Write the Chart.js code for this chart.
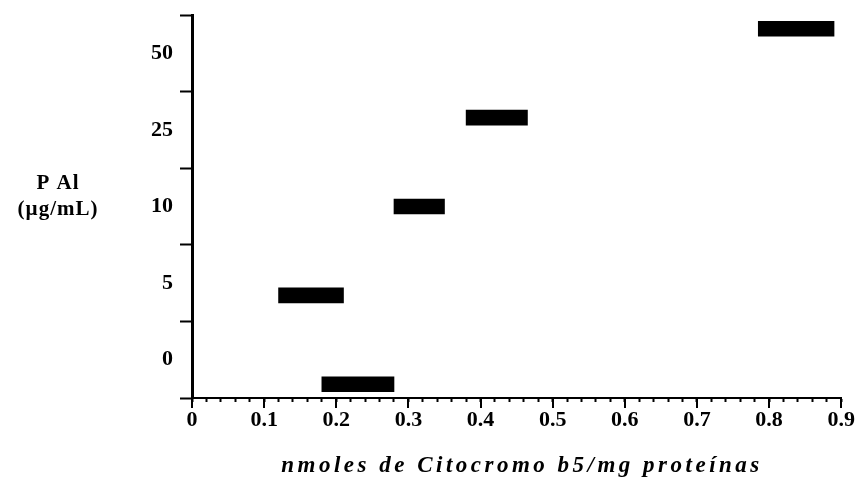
<!DOCTYPE html>
<html>
<head>
<meta charset="utf-8">
<script src="https://cdn.jsdelivr.net/npm/chart.js@4/dist/chart.umd.min.js"></script>
<style>
    html, body { margin: 0; padding: 0; background: #fff; }
    #wrap { width: 860px; height: 478px; }
</style>
</head>
<body>
<div id="wrap"><canvas id="chart" width="860" height="478"></canvas></div>
<script>
// PAI concentrations (bottom to top) and cytochrome b5 ranges
const categories = ['0', '5', '10', '25', '50'];
const rangeStart = [0.18, 0.12, 0.28, 0.38, 0.785];
const rangeEnd = [0.28, 0.21, 0.35, 0.465, 0.89];
const majorTicks = [0, 0.1, 0.2, 0.3, 0.4, 0.5, 0.6, 0.7, 0.8, 0.9];

const yTitle = ['P Al', '(µg/mL)'];
const xTitle = 'nmoles de Citocromo b5/mg proteínas';

const SERIF = '"Liberation Serif", "DejaVu Serif", serif';

const bars = categories.map((c, i) => ({ y: i, x: [rangeStart[i], rangeEnd[i]] }));

const extras = {
    id: 'extras',
    afterDraw (chart) {
        const ctx = chart.ctx;
        const x = chart.scales.x;
        const area = chart.chartArea;
        ctx.save();
        // longer major ticks on the x axis
        ctx.strokeStyle = '#000';
        ctx.lineWidth = 2;
        majorTicks.forEach((v) => {
            const px = Math.round(x.getPixelForValue(v));
            ctx.beginPath();
            ctx.moveTo(px, area.bottom);
            ctx.lineTo(px, area.bottom + 10);
            ctx.stroke();
        });
        // horizontal y title
        ctx.fillStyle = '#000';
        ctx.textAlign = 'center';
        ctx.textBaseline = 'middle';
        ctx.font = 'bold 21px ' + SERIF;
        ctx.letterSpacing = '1px';
        ctx.fillText(yTitle[0], 58, 184);
        ctx.fillText(yTitle[1], 58, 210);
        // x title
        ctx.font = 'italic bold 23px ' + SERIF;
        ctx.letterSpacing = '3.5px';
        ctx.fillText(xTitle, 522, 466);
        ctx.restore();
    }
};

new Chart(document.getElementById('chart'), {
    type: 'bar',
    data: {
        datasets: [{
            data: bars,
            xAxisID: 'x',
            yAxisID: 'yb',
            backgroundColor: '#000',
            borderWidth: 0,
            barThickness: 15
        }]
    },
    options: {
        indexAxis: 'y',
        responsive: false,
        animation: false,
        layout: { padding: { top: 15, right: 17, left: 0, bottom: 0 } },
        plugins: {
            legend: { display: false },
            tooltip: { enabled: false }
        },
        scales: {
            x: {
                type: 'linear',
                position: 'bottom',
                min: 0,
                max: 0.9,
                afterFit: (s) => { s.height = 80; },
                border: { display: true, color: '#000', width: 2 },
                grid: { drawOnChartArea: false, drawTicks: true, tickLength: 4, tickWidth: 2, tickColor: '#000' },
                ticks: {
                    stepSize: 0.02,
                    autoSkip: false,
                    maxTicksLimit: 100,
                    maxRotation: 0,
                    padding: 5,
                    color: '#000',
                    font: { family: SERIF, size: 22, weight: 'bold' },
                    callback: (v) => {
                        const t = v * 10;
                        if (Math.abs(t - Math.round(t)) > 1e-6) return '';
                        return Math.round(t) === 0 ? '0' : (Math.round(t) / 10).toFixed(1);
                    }
                }
            },
            y: {
                type: 'category',
                position: 'left',
                labels: categories.slice().reverse(),
                offset: true,
                afterFit: (s) => { s.width = 192; s.paddingTop = 0; s.paddingBottom = 0; },
                border: { display: true, color: '#000', width: 3 },
                grid: { offset: true, drawOnChartArea: false, drawTicks: true, tickLength: 12, tickWidth: 2, tickColor: '#000' },
                ticks: {
                    padding: 7,
                    color: '#000',
                    font: { family: SERIF, size: 22, weight: 'bold' }
                }
            },
            yb: {
                type: 'linear',
                display: false,
                offset: false,
                min: -0.155,
                max: 4.155
            }
        }
    },
    plugins: [extras]
});
</script>
</body>
</html>
